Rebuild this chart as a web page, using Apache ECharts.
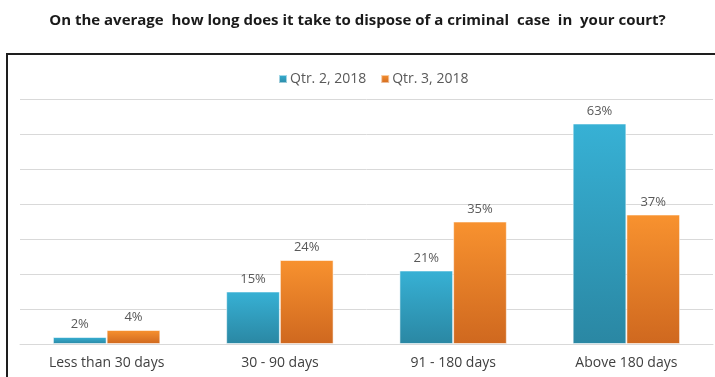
<!DOCTYPE html>
<html>
<head>
<meta charset="utf-8">
<script src="https://cdn.jsdelivr.net/npm/echarts@6/dist/echarts.min.js"></script>
<style>
  html, body { margin: 0; padding: 0; background: #ffffff; }
  #chart { width: 715px; height: 377px; }
</style>
</head>
<body>
<div id="chart"></div>
<script>
// Survey answers: share of respondents per disposal-time bucket
const categories = ['Less than 30 days', '30 - 90 days', '91 - 180 days', 'Above 180 days'];
const seriesNames = ['Qtr. 2, 2018', 'Qtr. 3, 2018'];
const qtr2Values = [2, 15, 21, 63];
const qtr3Values = [4, 24, 35, 37];
const titleText = 'On the average  how long does it take to dispose of a criminal  case  in  your court?';

const FONT = '"Open Sans", "Liberation Sans", sans-serif';

function grad(top, bottom) {
  return new echarts.graphic.LinearGradient(0, 0, 0, 1, [
    { offset: 0, color: top },
    { offset: 1, color: bottom }
  ]);
}

const chart = echarts.init(document.getElementById('chart'), null, { renderer: 'canvas' });

const labelStyle = {
  show: true,
  position: 'top',
  distance: 6,
  formatter: '{c}%',
  color: '#595959',
  fontSize: 13,
  fontFamily: FONT
};

chart.setOption({
  animation: false,
  backgroundColor: '#ffffff',
  title: {
    text: titleText,
    left: 'center',
    top: 8,
    textStyle: { fontSize: 15, fontWeight: 'bold', color: '#1a1a1a', fontFamily: FONT }
  },
  graphic: [{
    type: 'rect',
    shape: { x: 7, y: 54, width: 740, height: 360 },
    style: { fill: 'none', stroke: '#1e1e1e', lineWidth: 2 },
    silent: true,
    z: 0
  }],
  legend: {
    data: seriesNames,
    left: 273,
    top: 67,
    itemWidth: 8,
    itemHeight: 8,
    itemGap: 14,
    icon: 'rect',
    textStyle: { color: '#595959', fontSize: 14, fontFamily: FONT, padding: [0, 0, 0, -2] }
  },
  grid: { left: 20, right: 2, top: 99, bottom: 33 },
  xAxis: {
    type: 'category',
    data: categories,
    axisLine: { lineStyle: { color: '#d9d9d9', width: 1 } },
    axisTick: { show: false },
    axisLabel: { color: '#404040', fontSize: 14, fontFamily: FONT, margin: 12 }
  },
  yAxis: {
    type: 'value',
    min: 0,
    max: 70,
    interval: 10,
    axisLabel: { show: false },
    axisLine: { show: false },
    axisTick: { show: false },
    splitLine: { lineStyle: { color: '#d9d9d9', width: 1 } }
  },
  series: [
    {
      name: seriesNames[0],
      type: 'bar',
      data: qtr2Values,
      barGap: '0%',
      barCategoryGap: '38%',
      itemStyle: {
        color: grad('#37b1d5', '#2a87a3'),
        borderColor: 'rgba(255,255,255,0.55)',
        borderWidth: 1
      },
      label: labelStyle
    },
    {
      name: seriesNames[1],
      type: 'bar',
      data: qtr3Values,
      itemStyle: {
        color: grad('#f8922f', '#cf681f'),
        borderColor: 'rgba(255,255,255,0.55)',
        borderWidth: 1
      },
      label: labelStyle
    }
  ]
});
</script>
</body>
</html>
